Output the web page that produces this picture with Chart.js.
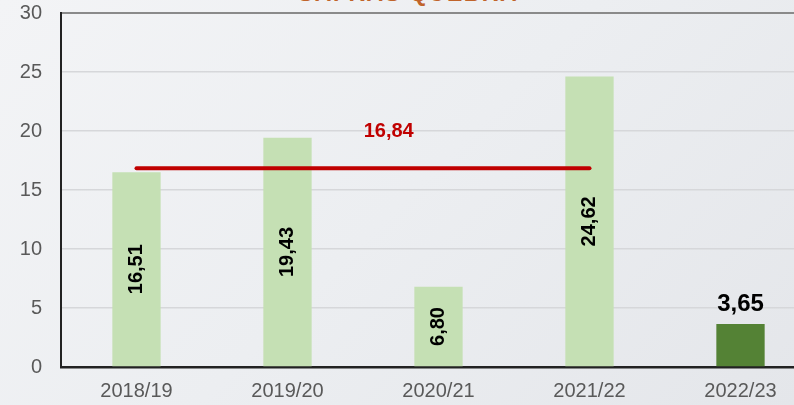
<!DOCTYPE html>
<html>
<head>
<meta charset="utf-8">
<script src="https://cdn.jsdelivr.net/npm/chart.js@4"></script>
<style>
  html, body { margin: 0; padding: 0; width: 794px; height: 405px; overflow: hidden; }
  body { background: linear-gradient(135deg, #f3f4f6 0%, #eceef1 50%, #e4e6ea 100%); position: relative; font-family: "Liberation Sans", Arial, sans-serif; }
  #title { position: absolute; top: -18px; left: 0; width: 816px; text-align: center; font-weight: bold; font-size: 23px; line-height: 23px; color: #C0642B; letter-spacing: 1.5px; }
  #wrap { position: absolute; left: 0; top: 0; width: 816px; height: 405px; }
</style>
</head>
<body>
<div id="title">SAFRAS QUEBRA</div>
<div id="wrap"><canvas id="c"></canvas></div>
<script>
const categories = ["2018/19", "2019/20", "2020/21", "2021/22", "2022/23"];
const values = [16.51, 19.43, 6.80, 24.62, 3.65];
const averageValue = 16.84;
const averageLine = [16.84, 16.84, 16.84, 16.84, null];
const yTicks = [0, 5, 10, 15, 20, 25, 30];

const barColors = ["#C5E0B4", "#C5E0B4", "#C5E0B4", "#C5E0B4", "#548235"];
const labelInside = [true, true, true, true, false];

function fmt(v) { return v.toFixed(2).replace('.', ','); }

const labelPlugin = {
  id: 'labels',
  afterDatasetsDraw(chart) {
    const ctx = chart.ctx;
    const meta = chart.getDatasetMeta(1);
    const ys = chart.scales.y, xs = chart.scales.x;
    ctx.save();
    ctx.fillStyle = '#000';
    meta.data.forEach((bar, i) => {
      const txt = fmt(values[i]);
      if (labelInside[i]) {
        ctx.font = 'bold 20px "Liberation Sans", Arial, sans-serif';
        const cy = (bar.y + bar.base) / 2;
        ctx.save();
        ctx.translate(bar.x, cy);
        ctx.rotate(-Math.PI / 2);
        ctx.textAlign = 'center';
        ctx.textBaseline = 'middle';
        ctx.fillText(txt, 0, 0);
        ctx.restore();
      } else {
        ctx.textAlign = 'center';
        ctx.textBaseline = 'alphabetic';
        ctx.font = 'bold 24px "Liberation Sans", Arial, sans-serif';
        ctx.fillText(txt, bar.x, bar.y - 13);
      }
    });
    // average label
    ctx.font = 'bold 20px "Liberation Sans", Arial, sans-serif';
    ctx.fillStyle = '#C00000';
    ctx.textAlign = 'center';
    ctx.textBaseline = 'middle';
    ctx.fillText(fmt(averageValue), xs.getPixelForValue(1.67), ys.getPixelForValue(20.0));
    ctx.restore();
  }
};

new Chart(document.getElementById('c'), {
  data: {
    labels: categories,
    datasets: [
      {
        type: 'line',
        data: averageLine,
        borderColor: '#C00000',
        borderWidth: 4,
        borderCapStyle: 'round',
        pointRadius: 0,
        fill: false,
        order: 0
      },
      {
        type: 'bar',
        data: values,
        backgroundColor: barColors,
        barPercentage: 0.32,
        categoryPercentage: 1.0,
        order: 1
      }
    ]
  },
  options: {
    responsive: true,
    maintainAspectRatio: false,
    animation: false,
    layout: { padding: { top: 13, right: 0, left: 0, bottom: 0 } },
    plugins: { legend: { display: false }, tooltip: { enabled: false } },
    scales: {
      x: {
        grid: { display: false, drawTicks: false },
        border: { display: true, color: '#222', width: 2.5 },
        ticks: { color: '#595959', font: { size: 20, family: '"Liberation Sans", Arial, sans-serif' }, padding: 12 },
        afterFit(s) { s.height = 38; s.paddingLeft = 0; s.paddingRight = 0; }
      },
      y: {
        min: 0, max: 30,
        afterBuildTicks(s) { s.ticks = yTicks.map(v => ({ value: v })); },
        grid: {
          drawTicks: false,
          color: (c) => c.tick && c.tick.value === 30 ? '#8a8a8a' : '#d6d7da',
          lineWidth: (c) => c.tick && c.tick.value === 30 ? 2 : 1.5
        },
        border: { display: true, color: '#222', width: 2 },
        ticks: { color: '#595959', font: { size: 20, family: '"Liberation Sans", Arial, sans-serif' }, padding: 19 },
        afterFit(s) { s.width = 61; s.paddingTop = 0; s.paddingBottom = 0; }
      }
    }
  },
  plugins: [labelPlugin]
});
</script>
</body>
</html>
